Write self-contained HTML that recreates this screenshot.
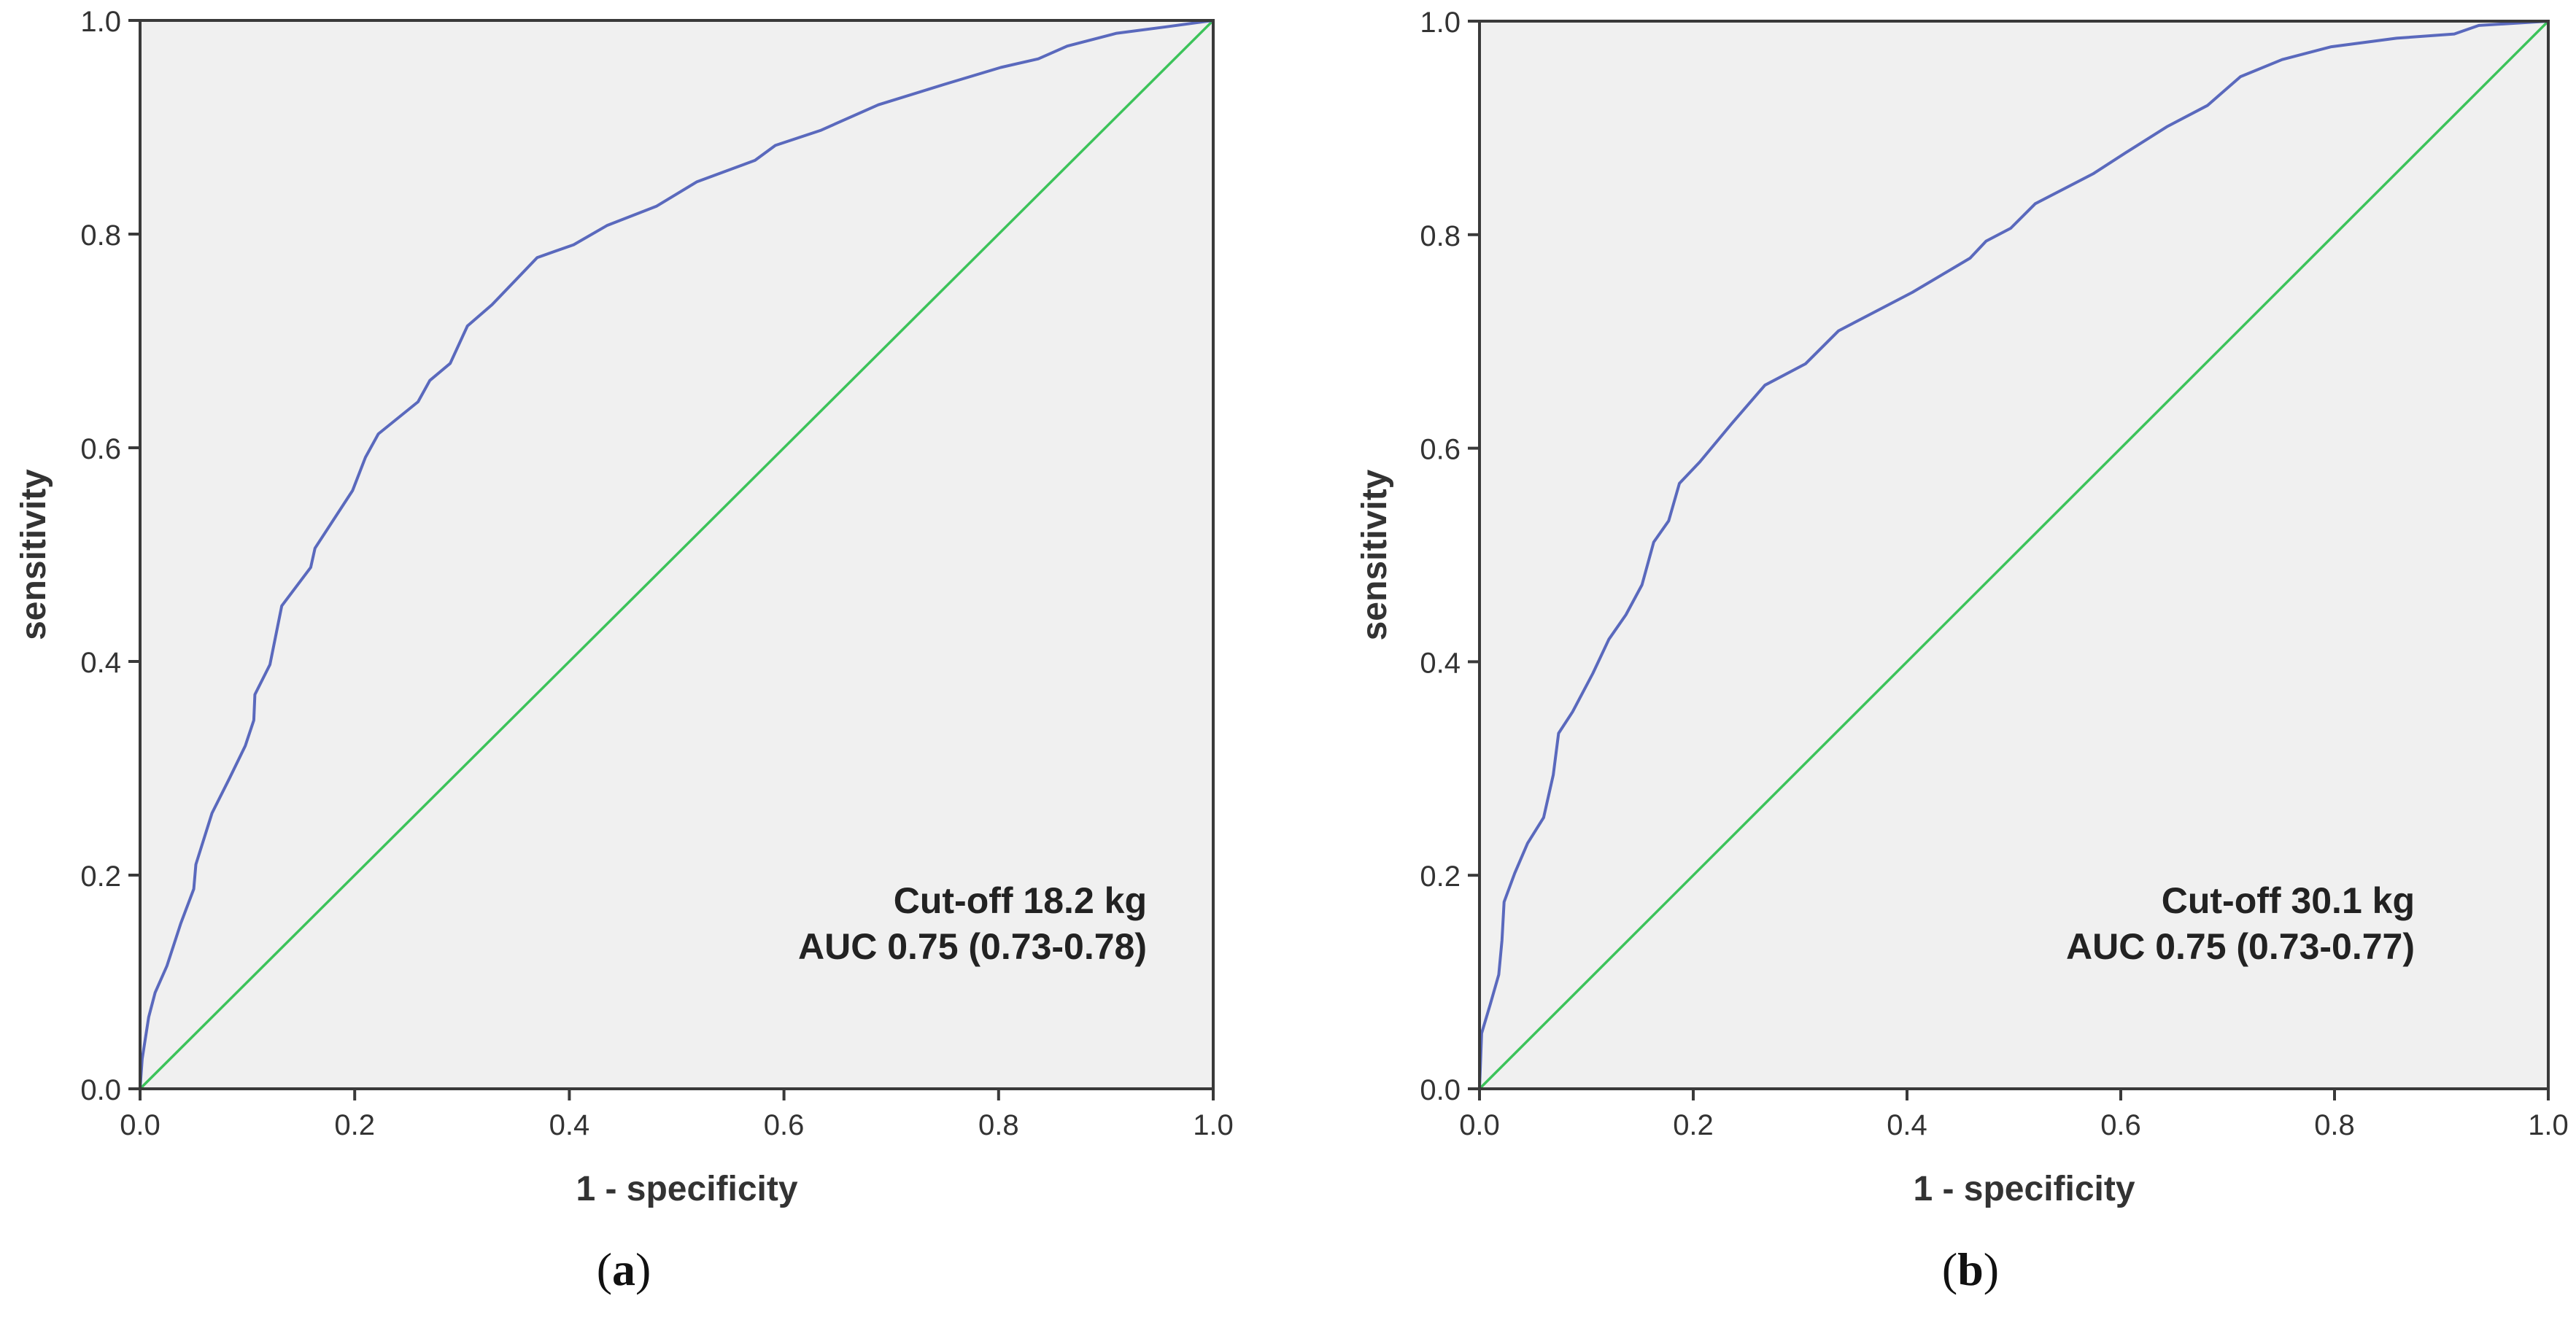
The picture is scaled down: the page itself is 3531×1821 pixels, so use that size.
<!DOCTYPE html>
<html><head><meta charset="utf-8"><style>
html,body{margin:0;padding:0;background:#fff;}
svg{display:block;}
</style></head><body>
<svg id="fig" width="3531" height="1821" viewBox="0 0 3531 1821" xmlns="http://www.w3.org/2000/svg"></svg>
<script>
const tickValues = [0, 0.2, 0.4, 0.6, 0.8, 1.0];
const tickLabels = ["0.0", "0.2", "0.4", "0.6", "0.8", "1.0"];
const fprA = [0,0.002,0.008,0.014,0.025,0.038,0.05,0.052,0.067,0.083,0.098,0.106,0.107,0.121,0.132,0.159,0.163,0.198,0.21,0.222,0.259,0.27,0.289,0.305,0.328,0.351,0.37,0.404,0.435,0.481,0.519,0.573,0.592,0.634,0.688,0.749,0.802,0.837,0.864,0.91,0.956,1];
const tprA = [0,0.028,0.067,0.09,0.115,0.155,0.187,0.21,0.258,0.29,0.321,0.345,0.369,0.397,0.452,0.488,0.506,0.56,0.591,0.613,0.643,0.663,0.679,0.714,0.734,0.758,0.778,0.79,0.808,0.826,0.849,0.869,0.883,0.897,0.921,0.94,0.956,0.964,0.976,0.988,0.994,1];
const fprB = [0,0.002,0.01,0.018,0.021,0.023,0.033,0.045,0.06,0.069,0.074,0.087,0.106,0.121,0.137,0.152,0.163,0.177,0.187,0.206,0.236,0.267,0.305,0.336,0.405,0.459,0.474,0.497,0.52,0.574,0.605,0.643,0.681,0.712,0.751,0.797,0.858,0.912,0.935,1];
const tprB = [0,0.052,0.079,0.107,0.139,0.175,0.202,0.23,0.254,0.294,0.333,0.353,0.389,0.421,0.444,0.472,0.512,0.532,0.567,0.587,0.623,0.659,0.679,0.71,0.746,0.778,0.794,0.806,0.829,0.857,0.877,0.901,0.921,0.948,0.964,0.976,0.984,0.988,0.996,1];
const refLine = [0, 1];

const NS = "http://www.w3.org/2000/svg";
const svg = document.getElementById("fig");
function mk(tag, attrs, parent) {
  const e = document.createElementNS(NS, tag);
  for (const k in attrs) e.setAttribute(k, attrs[k]);
  (parent || svg).appendChild(e);
  return e;
}
function panel(id, L, R, T, B, fpr, tpr, cut, auc, annX, letter, letterX, ytitleX) {
  const g = mk("g", {});
  
  
  const xs = v => L + v * (R - L);
  const ys = v => B - v * (B - T);
  const bg = mk("rect", {x: L, y: T, width: R - L, height: B - T, fill: "#f0f0f0"}, g);
  
  
  const diag = mk("line", {x1: xs(refLine[0]), y1: ys(refLine[0]), x2: xs(refLine[1]), y2: ys(refLine[1]), stroke: "#3cc35a", "stroke-width": 3.5}, g);
  
  
  let d = "";
  for (let i = 0; i < fpr.length; i++) d += (i ? "L" : "M") + xs(fpr[i]).toFixed(1) + "," + ys(tpr[i]).toFixed(1);
  const curve = mk("path", {d: d, fill: "none", stroke: "#5a69bd", "stroke-width": 4, "stroke-linejoin": "round"}, g);
  
  
  const frame = mk("rect", {x: L, y: T, width: R - L, height: B - T, fill: "none", stroke: "#3a3a3a", "stroke-width": 4}, g);
  
  
  for (let i = 0; i < tickValues.length; i++) {
    const v = tickValues[i];
    const xt = mk("line", {x1: xs(v), y1: B, x2: xs(v), y2: B + 16, stroke: "#3a3a3a", "stroke-width": 4}, g);
    
    
    const xl = mk("text", {x: xs(v), y: B + 63, "text-anchor": "middle", "font-family": "Liberation Sans, sans-serif", "font-size": 40, fill: "#333"}, g);
    xl.textContent = tickLabels[i];
    
    
    const yt = mk("line", {x1: L - 16, y1: ys(v), x2: L, y2: ys(v), stroke: "#3a3a3a", "stroke-width": 4}, g);
    
    
    const yl = mk("text", {x: L - 26, y: ys(v) + 15, "text-anchor": "end", "font-family": "Liberation Sans, sans-serif", "font-size": 40, fill: "#333"}, g);
    yl.textContent = tickLabels[i];
    
    
  }
  const xt = mk("text", {x: (L + R) / 2 + 14, y: 1646, "text-anchor": "middle", "font-family": "Liberation Sans, sans-serif", "font-size": 48, "font-weight": "bold", fill: "#333"}, g);
  xt.textContent = "1 - specificity";
  
  
  const yt = mk("text", {x: 0, y: 0, transform: "translate(" + ytitleX + "," + ((T + B) / 2) + ") rotate(-90)", "text-anchor": "middle", "font-family": "Liberation Sans, sans-serif", "font-size": 48, "font-weight": "bold", fill: "#333"}, g);
  yt.textContent = "sensitivity";
  
  
  const a1 = mk("text", {x: annX, y: 1252, "text-anchor": "end", "font-family": "Liberation Sans, 'Noto Sans CJK KR', sans-serif", "font-size": 50, "font-weight": "bold", fill: "#222"}, g);
  a1.textContent = cut;
  
  
  const a2 = mk("text", {x: annX, y: 1315, "text-anchor": "end", "font-family": "Liberation Sans, 'Noto Sans CJK KR', sans-serif", "font-size": 50, "font-weight": "bold", fill: "#222"}, g);
  a2.textContent = auc;
  
  
  const lt = mk("text", {x: letterX, y: 1762, "text-anchor": "middle", "font-family": "Liberation Serif, serif", "font-size": 64, fill: "#111"}, g);
  lt.innerHTML = '(<tspan font-weight="bold">' + letter + '</tspan>)';
  
  
}
panel("a", 192, 1663, 28, 1493, fprA, tprA, "Cut-off 18.2 kg", "AUC 0.75 (0.73-0.78)", 1572, "a", 855, 62);
panel("b", 2028, 3493, 29, 1493, fprB, tprB, "Cut-off 30.1 kg", "AUC 0.75 (0.73-0.77)", 3310, "b", 2701, 1900);
</script>
</body></html>
